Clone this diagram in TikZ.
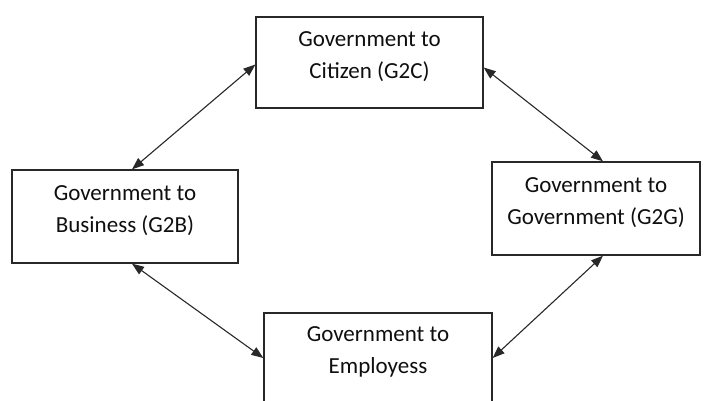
\documentclass[tikz,border=0pt]{standalone}
\usepackage{fontspec}
\setmainfont{Carlito}
\usepackage{tikz}
\usetikzlibrary{arrows.meta, positioning}
\definecolor{boxgray}{RGB}{40, 40, 40}
\definecolor{textblack}{RGB}{15, 15, 15}

\begin{document}
\begin{tikzpicture}[x=1pt, y=-1pt,
    govbox/.style={draw=boxgray, line width=1.3pt, fill=white, align=center,
        text=textblack, font=\fontsize{23}{32}\selectfont, inner sep=0pt, text depth=15pt},
    link/.style={line width=1.1pt, draw=boxgray,
        {Triangle[length=12pt, width=9pt]}-{Triangle[length=12pt, width=9pt]}}]
    \useasboundingbox (0,0) rectangle (709,400);
    \clip (0,0) rectangle (709,400);
    \node[govbox, minimum width=227pt, minimum height=91pt] (g2c) at (369.5,62.5) {Government to\\Citizen (G2C)};
    \node[govbox, minimum width=226pt, minimum height=93pt] (g2b) at (125,216.5) {Government to\\Business (G2B)};
    \node[govbox, minimum width=208pt, minimum height=93pt] (g2g) at (596,208.5) {Government to\\Government (G2G)};
    \node[govbox, minimum width=228pt, minimum height=90pt] (g2e) at (378,358) {Government to\\Employess};
    \draw[link] ([yshift=-2pt]g2c.west) -- ([xshift=7pt]g2b.north);
    \draw[link] ([yshift=-5pt]g2c.east) -- ([xshift=7pt]g2g.north);
    \draw[link] ([xshift=7pt]g2b.south) -- (g2e.west);
    \draw[link] (g2e.east) -- ([xshift=7pt]g2g.south);
\end{tikzpicture}
\end{document}
